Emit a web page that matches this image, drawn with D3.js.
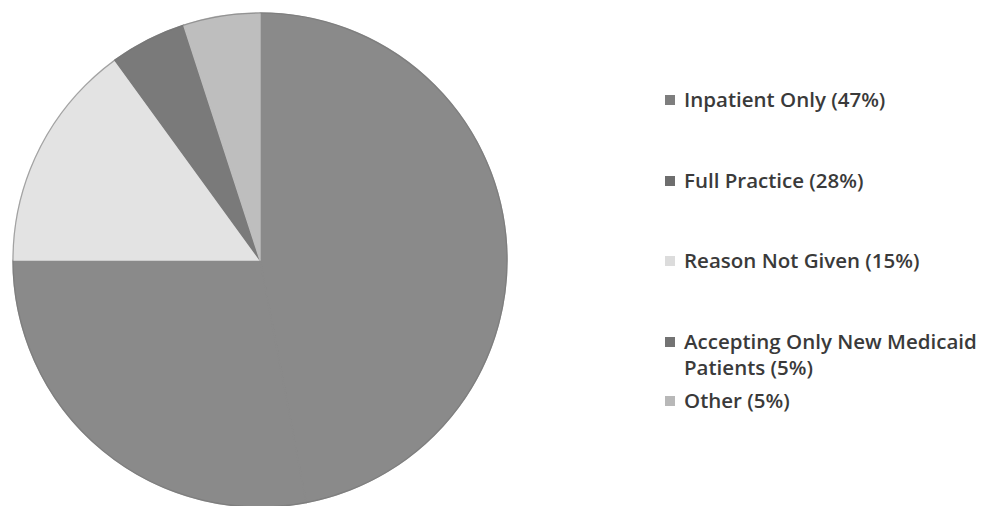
<!DOCTYPE html>
<html>
<head>
<meta charset="utf-8">
<script src="https://cdn.jsdelivr.net/npm/d3@7"></script>
<style>
  body { margin: 0; background: #fff; }
  svg { display: block; }
</style>
</head>
<body>
<div id="chart"></div>
<script>
// Chart data
var categories = ["Inpatient Only", "Full Practice", "Reason Not Given", "Accepting Only New Medicaid Patients", "Other"];
var shares = [47, 28, 15, 5, 5];
var colors = ["#8a8a8a", "#8a8a8a", "#e3e3e3", "#7a7a7a", "#bebebe"];
var swatchColors = ["#7e7e7e", "#6e6e6e", "#dcdcdc", "#737373", "#b8b8b8"];
// legend lines (wrapped like the original)
var legendLines = [
  ["Inpatient Only (47%)"],
  ["Full Practice (28%)"],
  ["Reason Not Given (15%)"],
  ["Accepting Only New Medicaid", "Patients (5%)"],
  ["Other (5%)"]
];

var svgWidth = 990;
var svgHeight = 506;

var svg = d3.select("#chart")
  .append("svg")
  .attr("width", svgWidth)
  .attr("height", svgHeight);

var cx = 260, cy = 260, radius = 247;

var pieData = categories.map(function(c, i) {
  return { name: c, value: shares[i], color: colors[i] };
});

var pie = d3.pie()
  .sort(null)
  .value(d => d.value);

var arc = d3.arc()
  .innerRadius(0)
  .outerRadius(radius);

var pieGroup = svg.append("g")
  .attr("transform", `translate(${cx}, ${cy})`);

pieGroup.selectAll("path")
  .data(pie(pieData))
  .enter()
  .append("path")
  .attr("d", arc)
  .attr("fill", d => d.data.color)
  .attr("stroke", d => d.data.color)
  .attr("stroke-width", 1.4)
  .attr("stroke-linejoin", "round");

// faint darker rim
pieGroup.append("circle")
  .attr("r", radius)
  .attr("fill", "none")
  .attr("stroke", "#777")
  .attr("stroke-width", 1.2)
  .attr("opacity", 0.6);

// Legend
var rowY = [107, 188, 268, 349, 408];
var lineGap = 26;

var legend = svg.append("g");

legendLines.forEach(function(lines, i) {
  var y = rowY[i];
  legend.append("rect")
    .attr("x", 665)
    .attr("y", y - 12)
    .attr("width", 10)
    .attr("height", 10)
    .attr("fill", swatchColors[i]);

  lines.forEach(function(t, j) {
    legend.append("text")
      .attr("x", 684)
      .attr("y", y + j * lineGap)
      .attr("font-family", "'Open Sans', sans-serif")
      .attr("font-size", "20.5px")
      .attr("font-weight", 600)
      .attr("fill", "#3a3a3a")
      .text(t);
  });
});
</script>
</body>
</html>
